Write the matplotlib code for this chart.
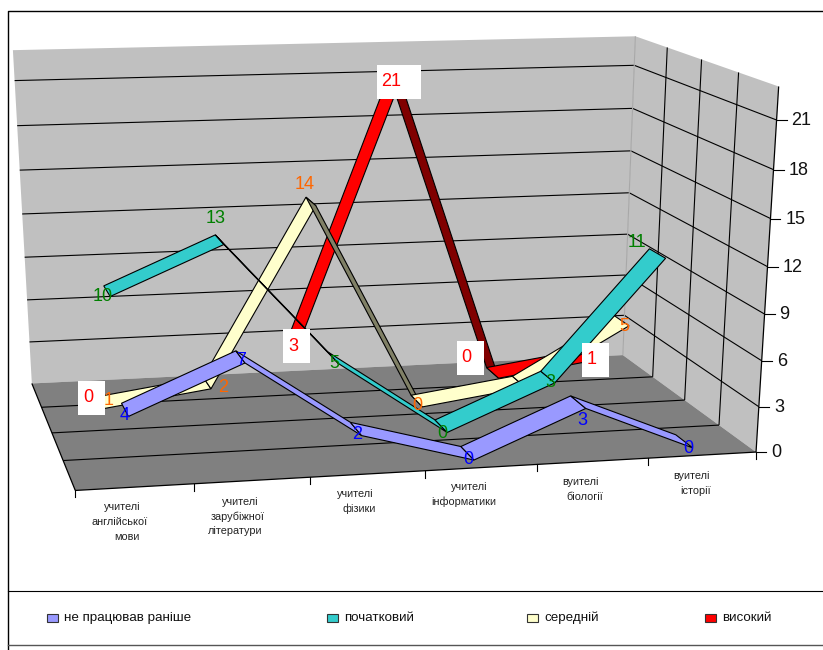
import numpy as np
import matplotlib
matplotlib.use('Agg')
import matplotlib.pyplot as plt
from matplotlib.patches import Polygon, Rectangle

plt.rcParams['font.family'] = ['Liberation Sans', 'DejaVu Sans']

# data, nan = no point
blue_vals = [4, 7, 2, 0, 3, 0]
green_vals = [10, 13, 5, 0, 3, 11]
cream_vals = [1, 2, 14, 0, 1, 5]
red_vals = [0, np.nan, 3, 21, 0, 1]
series_names = ['не працював раніше', 'початковий', 'середній', 'високий']
value_ticks = [0, 3, 6, 9, 12, 15, 18, 21]
cat_lines = [['учителі', 'англійської', 'мови'],
             ['учителі', 'зарубіжної', 'літератури'],
             ['учителі', 'фізики'],
             ['учителі', 'інформатики'],
             ['вуителі', 'біології'],
             ['вуителі', 'історії']]

all_vals = [blue_vals, green_vals, cream_vals, red_vals]
colors = ['#9999FF', '#33CCCC', '#FFFFCC', '#FF0000']
dark_colors = ['#4C4C80', '#196666', '#808066', '#800000']
label_colors = ['#0000FF', '#008000', '#FF6600', '#FF0000']
vmax = 23.0
half_depth = 0.06

# pixel shift of each data label from its point, None = label not shown
label_shift = [[(0, 6), (1, 4), (1, 6), (1, 6), (4, 18), (4, 7)],
               [(-4, 5), (-4, -21), (1, 6), (1, 7), (3, 6), (-20, -11)],
               [(8, -2), (16, 5), (-6, -17), (1, 4), None, (3, 6)],
               [(-1, 5), None, (0, 5), (-4, 4), (-26, -15), (2, 5)]]

# box corners (u, v, w) -> pixel, fitted to a pinhole camera
corners = [((0, 0, 0), (75, 490)), ((1, 0, 0), (756, 452)),
           ((1, 1, 0), (623, 355)), ((0, 1, 0), (32, 384)),
           ((0, 1, 1), (13, 50)), ((1, 1, 1), (635, 36)),
           ((1, 0, 1), (779, 87))]
rows = []
for (X, Y, Z), (px, py) in corners:
    rows.append([X, Y, Z, 1, 0, 0, 0, 0, -px * X, -px * Y, -px * Z, -px])
    rows.append([0, 0, 0, 0, X, Y, Z, 1, -py * X, -py * Y, -py * Z, -py])
cam = np.linalg.svd(np.array(rows, float))[2][-1].reshape(3, 4)


def proj(u, v, w):
    p = cam @ np.array([u, v, w, 1.0])
    return p[0] / p[2], p[1] / p[2]


def pos(cat, ser):
    return (cat + 0.5) / 6, (ser + 0.5) / 4


fig = plt.figure(figsize=(8.23, 6.5), dpi=100)
ax = fig.add_axes([0, 0, 1, 1])
ax.set_xlim(0, 823)
ax.set_ylim(650, 0)
ax.axis('off')

# frame
ax.plot([8, 8, 823], [650, 11, 11], color='k', lw=1)
ax.plot([8, 823], [591, 591], color='k', lw=0.8)
ax.plot([8, 823], [645, 645], color='#555555', lw=1)

# walls
back = [proj(0, 1, 0), proj(1, 1, 0), proj(1, 1, 1), proj(0, 1, 1)]
side = [proj(1, 1, 0), proj(1, 0, 0), proj(1, 0, 1), proj(1, 1, 1)]
floor = [proj(0, 0, 0), proj(1, 0, 0), proj(1, 1, 0), proj(0, 1, 0)]
ax.add_patch(Polygon(back, fc='#C0C0C0', ec='none', zorder=1))
ax.add_patch(Polygon(side, fc='#C0C0C0', ec='none', zorder=1))
ax.add_patch(Polygon(floor, fc='#808080', ec='none', zorder=1))


def line3d(a, b, **kw):
    pa, pb = proj(*a), proj(*b)
    ax.plot([pa[0], pb[0]], [pa[1], pb[1]], solid_capstyle='butt', **kw)


for t in value_ticks[1:]:
    w = t / vmax
    line3d((0, 1, w), (1, 1, w), color='k', lw=0.8, zorder=2)
    line3d((1, 1, w), (1, 0, w), color='k', lw=0.8, zorder=2)
for v in [0.25, 0.5, 0.75]:
    line3d((0, v, 0), (1, v, 0), color='k', lw=0.8, zorder=2)
    line3d((1, v, 0), (1, v, 1), color='k', lw=0.8, zorder=2)
line3d((1, 1, 0), (1, 1, 1), color='#A8A8A8', lw=0.8, zorder=2)
line3d((0, 0, 0), (0, 1, 0), color='k', lw=0.9, zorder=2)
line3d((0, 0, 0), (1, 0, 0), color='k', lw=0.9, zorder=2)
line3d((1, 0, 0), (1, 0, 1), color='k', lw=0.9, zorder=2)

# ribbons, back series first
z = 3
for s in [3, 2, 1, 0]:
    vals = all_vals[s]
    for c in range(5):
        if np.isnan(vals[c]) or np.isnan(vals[c + 1]):
            continue
        u0, v0 = pos(c, s)
        u1 = pos(c + 1, s)[0]
        w0, w1 = vals[c] / vmax, vals[c + 1] / vmax
        quad = [proj(u0, v0 - half_depth, w0), proj(u1, v0 - half_depth, w1),
                proj(u1, v0 + half_depth, w1), proj(u0, v0 + half_depth, w0)]
        q = np.array(quad)
        area = np.sum(q[:, 0] * np.roll(q[:, 1], -1) - np.roll(q[:, 0], -1) * q[:, 1])
        # underside shows when the quad flips over
        fc = colors[s] if area < 0 else dark_colors[s]
        ax.add_patch(Polygon(quad, fc=fc, ec='k', lw=0.8, zorder=z))
        z += 0.01

# data labels, red ones sit on white boxes
for s in range(4):
    for c in range(6):
        v = all_vals[s][c]
        if np.isnan(v) or label_shift[s][c] is None:
            continue
        px, py = proj(*pos(c, s), v / vmax)
        tx = px + label_shift[s][c][0]
        ty = py + label_shift[s][c][1]
        txt = '%d' % v
        if s == 3:
            left, wid = (tx - 14, 44) if len(txt) > 1 else (tx - 10, 27)
            ax.add_patch(Rectangle((left, ty - 17), wid, 34, fc='white', ec='none', zorder=9))
        ax.text(tx, ty, txt, color=label_colors[s], fontsize=13, ha='center',
                va='center', zorder=10)

# value axis
for t in value_ticks:
    x, y = proj(1, 0, t / vmax)
    ax.plot([x, x + 10], [y, y], color='k', lw=0.8, zorder=2)
    ax.text(x + 15, y + 0.5, str(t), fontsize=13, ha='left', va='center', color='#111111')

# category axis
for i in range(7):
    x, y = proj(i / 6, 0, 0)
    ax.plot([x, x], [y, y + 7], color='k', lw=0.8, zorder=2)
line_xy = [[(104, 507), (92, 522), (114, 537)], [(222, 502), (211, 517), (208, 531)],
           [(337, 494), (343, 509)], [(451, 487), (431, 502)],
           [(562, 482), (566, 497)], [(673, 476), (680, 491)]]
for lines, xy in zip(cat_lines, line_xy):
    for txt, (x, y) in zip(lines, xy):
        ax.text(x, y, txt, fontsize=7.8, ha='left', va='center', color='#222222')

# legend
legend_x = [47, 327, 527, 705]
for x, name, col in zip(legend_x, series_names, colors):
    ax.add_patch(Rectangle((x, 614), 11, 8, fc=col, ec='#333333', lw=0.8))
    ax.text(x + 17, 618, name, fontsize=9.6, ha='left', va='center', color='#111111')

fig.savefig('out.png', dpi=100)
